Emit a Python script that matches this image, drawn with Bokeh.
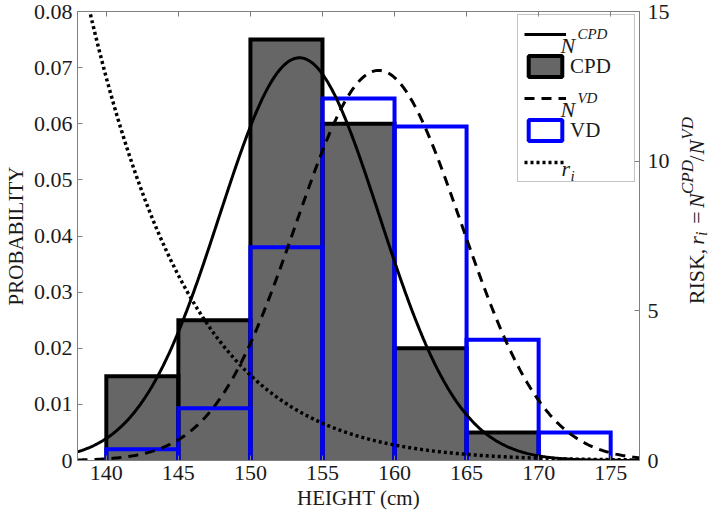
import numpy as np
from bokeh.plotting import figure
from bokeh.layouts import row
from bokeh.models import (Range1d, LinearAxis, FixedTicker, CustomJSTickFormatter,
                          Legend, LegendItem, ColumnDataSource)
from bokeh.embed import file_html
from bokeh.resources import INLINE
from bokeh.core.properties import value

# ---------------- data ----------------
cpd_left = [140, 145, 150, 155, 160, 165]
cpd_right = [145, 150, 155, 160, 165, 170]
cpd_prob = [0.015, 0.025, 0.075, 0.060, 0.020, 0.005]

vd_left = [140, 145, 150, 155, 160, 165, 170]
vd_right = [145, 150, 155, 160, 165, 170, 175]
vd_prob = [0.002, 0.0093, 0.038, 0.0645, 0.0595, 0.0215, 0.005]

cpd_mean, cpd_sd = 153.4, 5.56    # fitted normal N^CPD
vd_mean, vd_sd = 158.9, 5.74      # fitted normal N^VD

x_ticks = [140, 145, 150, 155, 160, 165, 170, 175]
prob_ticks = [0, 0.01, 0.02, 0.03, 0.04, 0.05, 0.06, 0.07, 0.08]
risk_ticks = [0, 5, 10, 15]

X0, X1 = 138, 177
Y0, Y1 = 0, 0.08
R0, R1 = 0, 15

FONT = "Liberation Serif"
AX = "#808080"
TXT = "#1a1a1a"
FS = "21px"
TFS = "22px"

H_FIG = 513
W_MAIN, W_SIDE = 672, 38
BL, BR, BT, BB = 69, 33, 11, 53
FRAME_W = W_MAIN - BL - BR
FRAME_H = H_FIG - BT - BB

def npdf(x, m, s):
    return np.exp(-0.5 * ((x - m) / s) ** 2) / (s * np.sqrt(2 * np.pi))

xs = np.linspace(X0, X1, 500)
n_cpd = npdf(xs, cpd_mean, cpd_sd)
n_vd = npdf(xs, vd_mean, vd_sd)
risk = n_cpd / n_vd

p = figure(width=W_MAIN, height=H_FIG, x_range=Range1d(X0, X1), y_range=Range1d(Y0, Y1),
           output_backend="svg", toolbar_location=None,
           min_border_left=BL, min_border_right=BR, min_border_top=BT, min_border_bottom=BB)
p.extra_y_ranges = {"risk": Range1d(R0, R1)}
p.xgrid.visible = False
p.ygrid.visible = False
p.outline_line_color = AX
p.background_fill_color = "white"
p.border_fill_color = "white"

def style_axis(ax):
    ax.axis_line_color = AX
    ax.major_tick_line_color = AX
    ax.minor_tick_line_color = None
    ax.major_tick_in = 5
    ax.major_tick_out = 0
    ax.major_label_text_font = FONT
    ax.major_label_text_font_size = TFS
    ax.major_label_text_color = TXT
    ax.axis_label_text_font = FONT
    ax.axis_label_text_font_size = FS
    ax.axis_label_text_font_style = "normal"
    ax.axis_label_text_color = TXT

xa = p.xaxis[0]
style_axis(xa)
xa.ticker = FixedTicker(ticks=x_ticks)
xa.axis_label = "HEIGHT (cm)"
xa.major_label_standoff = 5
xa.axis_label_standoff = 3

ya = p.yaxis[0]
style_axis(ya)
ya.ticker = FixedTicker(ticks=prob_ticks)
ya.formatter = CustomJSTickFormatter(code="return String(Math.round(tick*100)/100);")
ya.axis_label = "PROBABILITY"
ya.major_label_standoff = 5
ya.axis_label_standoff = 3

ra = LinearAxis(y_range_name="risk", ticker=FixedTicker(ticks=risk_ticks))
style_axis(ra)
ra.major_label_standoff = 8
p.add_layout(ra, "right")

ta = LinearAxis(ticker=FixedTicker(ticks=x_ticks),
                formatter=CustomJSTickFormatter(code="return '';"))
style_axis(ta)
ta.major_label_standoff = 0
p.add_layout(ta, "above")

# ---------------- histograms ----------------
cpd_src = ColumnDataSource(dict(left=cpd_left, right=cpd_right, top=cpd_prob))
vd_src = ColumnDataSource(dict(left=vd_left, right=vd_right, top=vd_prob))

p.quad(left="left", right="right", bottom=0, top="top", source=cpd_src,
       fill_color="#666666", line_color=None)
p.multi_line(xs=[[l, l, r, r] for l, r in zip(cpd_left, cpd_right)],
             ys=[[0, t, t, 0] for t in cpd_prob],
             line_color="black", line_width=4, line_join="miter")
p.multi_line(xs=[[l, l, r, r] for l, r in zip(vd_left, vd_right)],
             ys=[[0, t, t, 0] for t in vd_prob],
             line_color="#0000ff", line_width=4, line_join="miter")

# legend proxies (not drawn in the plot area)
cpd_proxy = p.quad(left="left", right="right", bottom=0, top="top", source=cpd_src,
                   fill_color="#666666", line_color="black", line_width=4, visible=False)
vd_proxy = p.quad(left="left", right="right", bottom=0, top="top", source=vd_src,
                  fill_color="white", line_color="#0000ff", line_width=4, visible=False)

# ---------------- curves ----------------
r_ncpd = p.line(xs, n_cpd, line_color="black", line_width=3)
r_nvd = p.line(xs, n_vd, line_color="black", line_width=3, line_dash="10 7")
r_risk = p.line(xs, risk, y_range_name="risk", line_color="black", line_width=3.5,
                line_dash="3 3")

# ---------------- legend ----------------
items = [
    LegendItem(label=value(" "), renderers=[r_ncpd]),
    LegendItem(label=value("CPD"), renderers=[cpd_proxy]),
    LegendItem(label=value(" "), renderers=[r_nvd]),
    LegendItem(label=value("VD"), renderers=[vd_proxy]),
    LegendItem(label=value(" "), renderers=[r_risk]),
]
leg_h = 6 * 2 + 5 * 26 + 4 * 6
leg_top = FRAME_H - 5
leg_bottom = leg_top - leg_h
leg_left = 440
legend = Legend(items=items, location=(leg_left, leg_bottom), orientation="vertical",
                glyph_width=42, glyph_height=26, label_height=26, label_width=58,
                label_standoff=4, spacing=6, padding=6, margin=0,
                border_line_color="#888888", border_line_width=1,
                background_fill_alpha=0,
                inactive_fill_alpha=0,
                label_text_font=FONT, label_text_font_size=FS, label_text_color=TXT)
p.add_layout(legend, "center")

# frame-pixel offsets -> data coordinates (for text placement in the legend)
def px_x(sx):
    return X0 + sx * (X1 - X0) / FRAME_W

def px_y(sy):
    return Y0 + sy * (Y1 - Y0) / FRAME_H

def txt(fig, x, y, t, size, style="normal", angle=0.0):
    fig.text(x=[x], y=[y], text=[t], angle=angle,
             text_font=value(FONT), text_font_size=f"{size}px",
             text_font_style=value(style), text_color=TXT,
             text_align="left", text_baseline="alphabetic")

row_y = [leg_top - 6 - 13 - k * 32 for k in range(5)]
tx = leg_left + 6 + 42 + 4

# N^CPD
txt(p, px_x(tx - 2), px_y(row_y[0] - 10), "N", 22, "italic")
txt(p, px_x(tx + 15), px_y(row_y[0] + 2), "CPD", 15, "italic")
# N^VD
txt(p, px_x(tx - 2), px_y(row_y[2] - 10), "N", 22, "italic")
txt(p, px_x(tx + 15), px_y(row_y[2] + 2), "VD", 15, "italic")
# r_i
txt(p, px_x(tx - 1), px_y(row_y[4] - 5), "r", 22, "italic")
txt(p, px_x(tx + 8), px_y(row_y[4] - 12), "i", 15, "italic")

# ---------------- right axis label (separate narrow panel, rotated) ----------------
q = figure(width=W_SIDE, height=H_FIG, x_range=Range1d(0, W_SIDE), y_range=Range1d(0, H_FIG),
           output_backend="svg", toolbar_location=None,
           x_axis_location=None, y_axis_location=None,
           min_border_left=0, min_border_right=0, min_border_top=0, min_border_bottom=0)
q.xgrid.visible = False
q.ygrid.visible = False
q.outline_line_color = None
q.background_fill_color = "white"
q.border_fill_color = "white"

# (text, size, style, baseline shift, start offset in px from the label's bottom)
segs = [("RISK,", 22, "normal", 0, 0), ("r", 22, "italic", 0, 68),
        ("i", 16, "italic", 5, 78), ("=", 22, "normal", 0, 92),
        ("N", 22, "italic", 0, 110), ("CPD", 17, "italic", -9, 126),
        ("/", 22, "normal", 0, 163), ("N", 22, "italic", 0, 171),
        ("VD", 17, "italic", -9, 188)]
label_len = 211
base_x = 24
center_from_bottom = H_FIG - (237 - 8)
start = center_from_bottom - label_len / 2
for t, s, st, dx, off in segs:
    txt(q, base_x + dx, start + off, t, s, st, angle=np.pi / 2)

layout = row(p, q, spacing=0)
open("out.html", "w").write(file_html(layout, INLINE))
